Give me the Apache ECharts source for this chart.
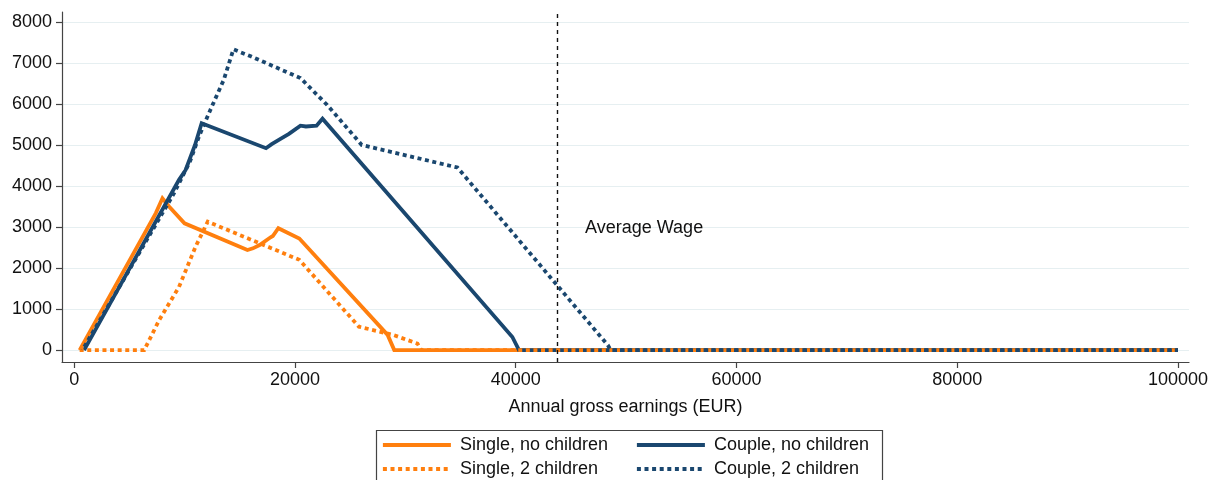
<!DOCTYPE html>
<html>
<head>
<meta charset="utf-8">
<script src="https://cdn.jsdelivr.net/npm/echarts@6/dist/echarts.min.js"></script>
<style>
html,body{margin:0;padding:0;background:#fff;}
#chart{width:1211px;height:480px;}
</style>
</head>
<body>
<div id="chart"></div>
<script>
// ---- data ----
const seriesNames = ['Single, no children', 'Single, 2 children', 'Couple, no children', 'Couple, 2 children'];

const singleNoKidsX = [500, 7400, 8000, 8600, 10000, 15700, 16200, 16800, 17800, 18000, 18500, 20400, 28400, 29000, 100000];
const singleNoKidsY = [0, 3340, 3700, 3500, 3090, 2440, 2480, 2560, 2750, 2780, 2970, 2720, 370, 0, 0];

const single2KidsX = [500, 6350, 7700, 9500, 11000, 12100, 20400, 25800, 28900, 31100, 31450, 100000];
const single2KidsY = [0, 0, 730, 1540, 2520, 3130, 2200, 570, 370, 160, 0, 0];

const coupleNoKidsX = [900, 9500, 10100, 10950, 11550, 17380, 17900, 18770, 19460, 20500, 21000, 21960, 22500, 39700, 40300, 100000];
const coupleNoKidsY = [0, 4150, 4390, 5000, 5530, 4920, 5020, 5160, 5270, 5470, 5450, 5470, 5640, 320, 0, 0];

const couple2KidsX = [750, 9000, 10500, 11300, 12350, 13560, 14430, 16000, 20500, 22900, 26050, 34720, 48350, 48600, 100000];
const couple2KidsY = [0, 3800, 4600, 5200, 5860, 6590, 7330, 7160, 6630, 5980, 5000, 4450, 120, 0, 0];

const averageWage = 43750;
const averageWageLabelY = 2975;
const averageWageLabel = 'Average Wage';

const xTicks = [0, 20000, 40000, 60000, 80000, 100000];
const yTicks = [0, 1000, 2000, 3000, 4000, 5000, 6000, 7000, 8000];
const xAxisTitle = 'Annual gross earnings (EUR)';

// ---- chart ----
const ORANGE = '#ff7f0e';
const NAVY = '#1a476f';
const FONT = 'Liberation Sans, Arial, Helvetica, sans-serif';

function pairs(xs, ys) { return xs.map((x, i) => [x, ys[i]]); }

const chart = echarts.init(document.getElementById('chart'), null, {renderer: 'canvas'});

const dotted = [4, 3.6];

function lineSeries(name, xs, ys, color, dash, extra, dashOffset) {
  return Object.assign({
    name: name,
    type: 'line',
    data: pairs(xs, ys),
    symbol: 'none',
    showSymbol: false,
    animation: false,
    lineStyle: {color: color, width: 3.8, type: dash ? dotted : 'solid', dashOffset: dashOffset || 0, cap: 'butt', join: 'miter'},
    itemStyle: {color: color},
    emphasis: {disabled: true}
  }, extra || {});
}

const legendCommon = {
  orient: 'vertical',
  top: 435,
  padding: 0,
  itemWidth: 68, itemHeight: 12, itemGap: 4,
  textStyle: {fontSize: 18, color: '#111', fontFamily: FONT, lineHeight: 20, padding: [0, 0, 0, 4]},
  lineStyle: {width: 'inherit', dashOffset: 0},
  itemStyle: {opacity: 0, borderWidth: 0},
  selectedMode: false
};

const option = {
  animation: false,
  textStyle: {fontFamily: FONT},
  grid: {left: 62, right: 21, top: 12, bottom: 118, containLabel: false},
  xAxis: {
    type: 'value',
    min: -1100,
    max: 101000,
    name: xAxisTitle,
    nameLocation: 'middle',
    nameGap: 36,
    nameTextStyle: {fontSize: 18, color: '#111', fontFamily: FONT},
    axisLine: {show: true, onZero: false, lineStyle: {color: '#444', width: 1.2}},
    axisTick: {show: true, inside: false, length: 6, customValues: xTicks, lineStyle: {color: '#444', width: 1.2}},
    axisLabel: {show: true, customValues: xTicks, margin: 9, fontSize: 18, color: '#111', fontFamily: FONT, formatter: v => String(v)},
    splitLine: {show: false}
  },
  yAxis: {
    type: 'value',
    min: -290,
    max: 8240,
    axisLine: {show: true, onZero: false, lineStyle: {color: '#444', width: 1.2}},
    axisTick: {show: true, inside: false, length: 6, customValues: yTicks, lineStyle: {color: '#444', width: 1.2}},
    axisLabel: {show: true, customValues: yTicks, margin: 10, fontSize: 18, color: '#111', fontFamily: FONT, formatter: v => String(v)},
    splitLine: {show: true, lineStyle: {color: '#e6eff1', width: 1.2}}
  },
  legend: [
    Object.assign({data: [seriesNames[0], seriesNames[1]], left: 381}, legendCommon),
    Object.assign({data: [seriesNames[2], seriesNames[3]], left: 635}, legendCommon)
  ],
  graphic: [
    {type: 'rect', left: 374, top: 428, shape: {width: 506, height: 70}, style: {fill: 'none', stroke: '#444', lineWidth: 1.2}, silent: true}
  ],
  series: [
    lineSeries(seriesNames[0], singleNoKidsX, singleNoKidsY, ORANGE, false, {
      markLine: {
        silent: true, symbol: 'none', animation: false,
        label: {show: false},
        lineStyle: {color: '#111', type: [4, 4], width: 1.4},
        data: [{xAxis: averageWage}]
      },
      markPoint: {
        silent: true, symbol: 'circle', symbolSize: 0, animation: false,
        label: {show: true, position: 'right', distance: 28, formatter: averageWageLabel, fontSize: 18, color: '#111', fontFamily: FONT},
        data: [{coord: [averageWage, averageWageLabelY]}]
      }
    }),
    lineSeries(seriesNames[2], coupleNoKidsX, coupleNoKidsY, NAVY, false),
    lineSeries(seriesNames[1], single2KidsX, single2KidsY, ORANGE, true),
    lineSeries(seriesNames[3], couple2KidsX, couple2KidsY, NAVY, true, null, 3.8)
  ]
};

chart.setOption(option);
</script>
</body>
</html>
